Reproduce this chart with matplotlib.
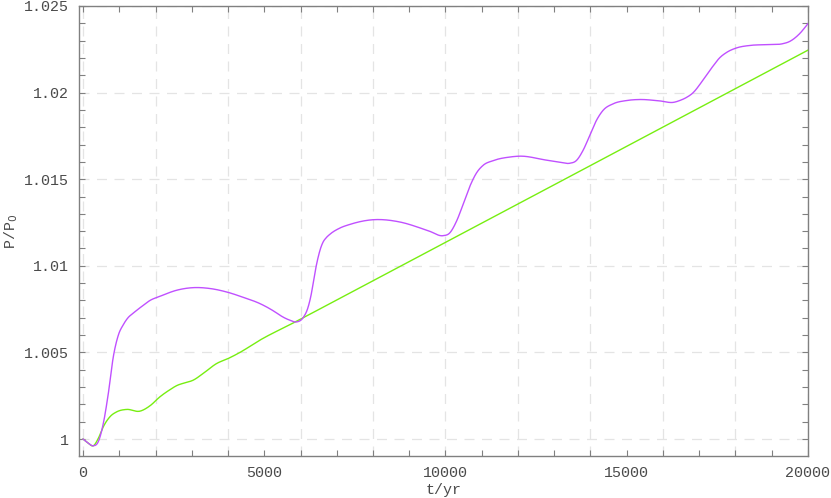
import numpy as np
import matplotlib
matplotlib.use("Agg")
import matplotlib.pyplot as plt
from matplotlib.ticker import MultipleLocator, FixedLocator

# ---- data ----
t_purple = [0, 150, 284, 422, 560, 698, 835, 973, 1111, 1240, 1387, 1662, 1847, 2123,
            2583, 3041, 3501, 3962, 4420, 4880, 5340, 5431, 5707, 5892, 6074, 6212,
            6300, 6350, 6420, 6487, 6560, 6625, 6700, 6810, 7086, 7361, 7996, 8740,
            9350, 9567, 9934, 10118, 10303, 10485, 10670, 10855, 11037, 11312, 11773,
            12048, 12785, 13151, 13427, 13612, 13794, 13979, 14163, 14345, 14621,
            14990, 15357, 15909, 16300, 16460, 16640, 16819, 17094, 17370, 17560,
            17756, 18031, 18390, 18900, 19300, 19493, 19769, 20000]
p_purple = [1.00000, 0.99975, 0.99961, 0.99985, 1.00090, 1.00263, 1.00474, 1.00599,
            1.00660, 1.00700, 1.00727, 1.00772, 1.00800, 1.00824,
            1.00859, 1.00874, 1.00869, 1.00849, 1.00818, 1.00782, 1.00728, 1.00715,
            1.00686, 1.00676, 1.00701, 1.00763,
            1.00840, 1.00900, 1.00985, 1.01050, 1.01105, 1.01138, 1.01160, 1.01182,
            1.01218, 1.01239, 1.01266, 1.01253,
            1.01215, 1.01199, 1.01174, 1.01190, 1.01257, 1.01354, 1.01458, 1.01536,
            1.01580, 1.01607, 1.01628,
            1.01633, 1.01610, 1.01598, 1.01592, 1.01608, 1.01666, 1.01752, 1.01839,
            1.01897, 1.01935,
            1.01954, 1.01960, 1.01952, 1.01944, 1.01954, 1.01971, 1.01997, 1.02069,
            1.02150, 1.02200,
            1.02232, 1.02258, 1.02272, 1.02277, 1.02282, 1.02295, 1.02340, 1.02398]

t_green = [0, 150, 284, 422, 560, 744, 929, 1205, 1572, 1847, 2123, 2399, 2600, 2765,
           3041, 3317, 3686, 4006, 4329, 4880, 5798, 7637, 10000, 12000, 14000,
           16000, 18000, 20000]
p_green = [1.00000, 0.99975, 0.99961, 1.00004, 1.00071, 1.00129, 1.00157, 1.00171,
           1.00161, 1.00192, 1.00244, 1.00285, 1.00310, 1.00322,
           1.00340, 1.00379, 1.00436, 1.00465, 1.00500, 1.00571, 1.00670, 1.00874,
           1.01136, 1.01357, 1.01579,
           1.01801, 1.02023, 1.02245]

x_ticks = [0, 5000, 10000, 15000, 20000]
y_ticks = [1.0, 1.005, 1.01, 1.015, 1.02, 1.025]
y_labels = ["1", "1.005", "1.01", "1.015", "1.02", "1.025"]


def smooth_path(x, y, n=24):
    """Smooth cubic Hermite rendering through the read points."""
    x = np.asarray(x, float)
    y = np.asarray(y, float)
    h = np.diff(x)
    d = np.diff(y) / h
    m = np.zeros_like(y)
    m[0], m[-1] = d[0], d[-1]
    for i in range(1, len(x) - 1):
        m[i] = (h[i] * d[i - 1] + h[i - 1] * d[i]) / (h[i - 1] + h[i])
    xs, ys = [], []
    for i in range(len(x) - 1):
        s = np.linspace(0, 1, n, endpoint=False)
        h00 = 2 * s**3 - 3 * s**2 + 1
        h10 = s**3 - 2 * s**2 + s
        h01 = -2 * s**3 + 3 * s**2
        h11 = s**3 - s**2
        xs.append(x[i] + s * h[i])
        ys.append(h00 * y[i] + h10 * h[i] * m[i] + h01 * y[i + 1] + h11 * h[i] * m[i + 1])
    xs.append([x[-1]])
    ys.append([y[-1]])
    return np.concatenate(xs), np.concatenate(ys)


# ---- figure ----
txt = "#4a4a4a"
plt.rcParams["font.family"] = ["Liberation Mono", "DejaVu Sans Mono"]
fs = 10.8

fig = plt.figure(figsize=(8.31, 4.98), dpi=100)
ax = fig.add_axes([0.0951, 0.0843, 0.8772, 0.9037])

# grid (vertical every 2000, horizontal every 0.005)
for gx in range(0, 20001, 2000):
    ax.axvline(gx, color="#e4e4e4", lw=0.9, ls=(0, (8, 6)), zorder=0)
for gy in y_ticks:
    ax.axhline(gy, color="#e4e4e4", lw=0.9, ls=(0, (8, 6)), zorder=0)

gx_s, gy_s = smooth_path(t_green, p_green)
px_s, py_s = smooth_path(t_purple, p_purple)
ax.plot(gx_s, gy_s, color="#77ee11", lw=1.0, zorder=3)
ax.plot(px_s, py_s, color="#c050ff", lw=1.0, zorder=4)

ax.set_xlim(-110, 20000)
ax.set_ylim(0.99902, 1.025)

ax.xaxis.set_major_locator(FixedLocator(x_ticks))
ax.xaxis.set_minor_locator(MultipleLocator(1000))
ax.yaxis.set_major_locator(FixedLocator(y_ticks))
ax.set_yticklabels(y_labels)
ax.yaxis.set_minor_locator(MultipleLocator(0.001))
ax.set_xticklabels([str(v) for v in x_ticks])

for s in ax.spines.values():
    s.set_color("#808080")
    s.set_linewidth(1.0)

ax.tick_params(which="both", direction="in", length=4, width=0.8, color="#808080",
               top=True, right=True, labelsize=fs, labelcolor=txt)
ax.tick_params(axis="x", pad=7)
ax.tick_params(axis="y", pad=7)

ax.set_xlabel("t/yr", fontsize=fs, color=txt)
ax.xaxis.set_label_coords(0.5, -0.061)
ax.set_ylabel("P/P$_0$", fontsize=fs, color=txt)
ax.yaxis.set_label_coords(-0.081, 0.5)

fig.savefig("out.png", dpi=100)
